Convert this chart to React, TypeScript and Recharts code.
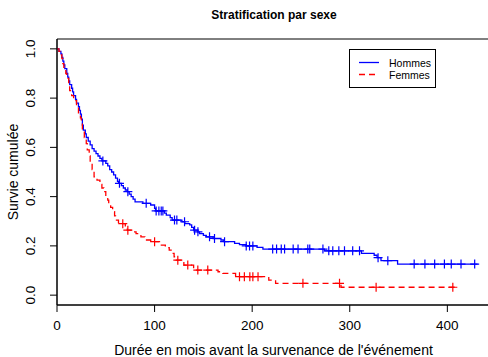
import React from 'react';
import { ComposedChart, Line, Scatter, XAxis, YAxis, ReferenceArea } from 'recharts';

const titleText = 'Stratification par sexe';
const xTitle = "Durée en mois avant la survenance de l'événement";
const yTitle = 'Survie cumulée';
const seriesNames = ['Hommes', 'Femmes'];
const xTicks = [0, 100, 200, 300, 400];
const yTicks = [0, 0.2, 0.4, 0.6, 0.8, 1.0];

// Kaplan-Meier steps: [time, survival after time]
const hommesSteps: number[][] = [
  [0, 1], [2, 0.99], [4, 0.98], [5, 0.965], [6, 0.95], [7, 0.935], [8, 0.92], [10, 0.9], [11, 0.885],
  [12, 0.87], [13, 0.855], [15, 0.84], [16, 0.825], [17, 0.81], [19, 0.795], [20, 0.78], [22, 0.765],
  [23, 0.75], [24, 0.735], [25, 0.715], [26, 0.69], [27, 0.67], [29, 0.655], [30, 0.64], [32, 0.625],
  [34, 0.61], [36, 0.595], [38, 0.585], [40, 0.575], [42, 0.565], [44, 0.555], [46, 0.545], [50, 0.535],
  [52, 0.525], [54, 0.51], [56, 0.5], [58, 0.488], [60, 0.475], [62, 0.462], [63, 0.454], [66, 0.445],
  [68, 0.435], [70, 0.427], [72, 0.42], [74, 0.41], [76, 0.4], [78, 0.39], [80, 0.379], [88, 0.373],
  [96, 0.366], [100, 0.352], [101, 0.342], [110, 0.333], [112, 0.325], [116, 0.315], [118, 0.305],
  [128, 0.298], [131, 0.29], [136, 0.285], [138, 0.275], [140, 0.264], [144, 0.257], [146, 0.25],
  [150, 0.243], [153, 0.237], [160, 0.23], [168, 0.224], [171, 0.217], [182, 0.21], [187, 0.205],
  [194, 0.2], [205, 0.194], [211, 0.187], [274, 0.18], [312, 0.17], [325, 0.162], [328, 0.152],
  [332, 0.14], [349, 0.126], [431, 0.126],
];
const hommesCensored: number[][] = [
  [47, 0.545], [64, 0.454], [72.6, 0.42], [91.4, 0.373], [101.6, 0.342], [104.4, 0.342], [106.8, 0.342],
  [108.5, 0.342], [120.4, 0.305], [122.8, 0.305], [130.7, 0.298], [141, 0.264], [144.4, 0.257],
  [156.3, 0.237], [161.4, 0.23], [171.7, 0.217], [193.9, 0.2], [197.3, 0.2], [200.7, 0.2], [221, 0.187],
  [225, 0.187], [229.8, 0.187], [233.2, 0.187], [242, 0.187], [247, 0.187], [257, 0.187], [259, 0.187],
  [272.5, 0.187], [278.5, 0.18], [282.6, 0.18], [288.8, 0.18], [294.6, 0.18], [303, 0.18], [310, 0.18],
  [329, 0.152], [339, 0.14], [366, 0.126], [377, 0.126], [387, 0.126], [397, 0.126], [404, 0.126],
  [414, 0.126], [428, 0.126],
];
const femmesSteps: number[][] = [
  [0, 1], [2, 0.99], [3, 0.975], [5, 0.96], [6, 0.94], [7, 0.925], [9, 0.9], [10, 0.88], [12, 0.85],
  [13, 0.83], [15, 0.81], [17, 0.79], [20, 0.77], [22, 0.74], [24, 0.72], [25, 0.7], [26, 0.67],
  [28, 0.64], [30, 0.615], [31, 0.59], [33, 0.565], [34, 0.535], [36, 0.51], [38, 0.48], [41, 0.467],
  [44, 0.45], [46, 0.435], [48, 0.42], [50, 0.4], [52, 0.386], [53, 0.373], [55, 0.356], [57, 0.339],
  [59, 0.322], [60, 0.305], [63, 0.29], [70, 0.277], [72, 0.264], [78, 0.257], [81, 0.25], [86, 0.237],
  [90, 0.224], [96, 0.217], [106, 0.203], [111, 0.193], [115, 0.183], [118, 0.17], [120, 0.156],
  [122, 0.142], [130, 0.122], [140, 0.102], [165, 0.095], [170, 0.088], [183, 0.075], [217, 0.061],
  [224, 0.048], [291, 0.032], [410.7, 0.032],
];
const femmesCensored: number[][] = [
  [67.4, 0.29], [72.6, 0.264], [100, 0.217], [123.8, 0.142], [134, 0.122], [144.3, 0.102], [154.5, 0.102],
  [187, 0.075], [192, 0.075], [197.6, 0.075], [200.7, 0.075], [206, 0.075], [252, 0.048], [289.5, 0.048],
  [327, 0.032], [405.6, 0.032],
];

const BLUE = '#0000FF';
const RED = '#FF0000';
const FONT = '"Liberation Sans", Arial, Helvetica, sans-serif';

const toRows = (arr: number[][]) => arr.map(([t, s]) => ({ t, s }));
const hommesData = toRows(hommesSteps);
const femmesData = toRows(femmesSteps);
const hommesCens = toRows(hommesCensored);
const femmesCens = toRows(femmesCensored);

const makePlus = (color: string) => (props: any) => {
  const { cx, cy } = props;
  if (cx == null || cy == null) return <g />;
  return (
    <path
      d={`M${cx - 4.5},${cy}H${cx + 4.5}M${cx},${cy - 4.5}V${cy + 4.5}`}
      stroke={color}
      strokeWidth={1.2}
      fill="none"
    />
  );
};

const XTick = (props: any) => {
  const { x, payload } = props;
  return (
    <text x={x} y={330} textAnchor="middle" fontSize={13.5} fontFamily={FONT} fill="#000">
      {String(payload.value)}
    </text>
  );
};

const YTick = (props: any) => {
  const { y, payload } = props;
  const lx = 35;
  return (
    <text
      x={lx}
      y={y}
      transform={`rotate(-90, ${lx}, ${y})`}
      textAnchor="middle"
      fontSize={13.5}
      fontFamily={FONT}
      fill="#000"
    >
      {Number(payload.value).toFixed(1)}
    </text>
  );
};

const XLabel = (props: any) => {
  const vb = props.viewBox || { x: 57, width: 433 };
  return (
    <text x={vb.x + vb.width / 2} y={355} textAnchor="middle" fontSize={14} fontFamily={FONT} fill="#000">
      {xTitle}
    </text>
  );
};

const YLabel = (props: any) => {
  const vb = props.viewBox || { y: 39, height: 266 };
  const cy = vb.y + vb.height / 2;
  return (
    <text
      x={18}
      y={cy}
      transform={`rotate(-90, 18, ${cy})`}
      textAnchor="middle"
      fontSize={14}
      fontFamily={FONT}
      fill="#000"
    >
      {yTitle}
    </text>
  );
};

export default function App() {
  return (
    <div
      style={{
        position: 'absolute',
        left: 0,
        top: 0,
        width: 488,
        height: 357,
        overflow: 'hidden',
        background: '#fff',
      }}
    >
      <ComposedChart
        width={500}
        height={357}
        margin={{ top: 39, right: 10, bottom: 0, left: 0 }}
      >
        <XAxis
          type="number"
          dataKey="t"
          domain={[0, 443.7]}
          allowDataOverflow
          ticks={xTicks}
          tick={<XTick />}
          tickSize={7}
          height={52}
          stroke="#000"
          axisLine={{ stroke: '#000' }}
          tickLine={{ stroke: '#000' }}
          label={<XLabel />}
        />
        <YAxis
          type="number"
          dataKey="s"
          domain={[-0.04, 1.04]}
          allowDataOverflow
          ticks={yTicks}
          tick={<YTick />}
          tickSize={7}
          width={57}
          stroke="#000"
          axisLine={{ stroke: '#000' }}
          tickLine={{ stroke: '#000' }}
          label={<YLabel />}
        />
        <ReferenceArea
          x1={0}
          x2={443.7}
          y1={-0.04}
          y2={1.04}
          fill="none"
          fillOpacity={0}
          stroke="#000"
          strokeWidth={1}
          strokeOpacity={1}
        />
        <Line
          data={hommesData}
          dataKey="s"
          type="stepAfter"
          stroke={BLUE}
          strokeWidth={1.3}
          dot={false}
          activeDot={false}
          isAnimationActive={false}
          name={seriesNames[0]}
        />
        <Line
          data={femmesData}
          dataKey="s"
          type="stepAfter"
          stroke={RED}
          strokeWidth={1.3}
          strokeDasharray="6 4"
          dot={false}
          activeDot={false}
          isAnimationActive={false}
          name={seriesNames[1]}
        />
        <Scatter
          data={hommesCens}
          dataKey="s"
          shape={makePlus(BLUE)}
          isAnimationActive={false}
          legendType="none"
        />
        <Scatter
          data={femmesCens}
          dataKey="s"
          shape={makePlus(RED)}
          isAnimationActive={false}
          legendType="none"
        />
      </ComposedChart>
      <svg
        width={488}
        height={357}
        style={{ position: 'absolute', left: 0, top: 0, pointerEvents: 'none' }}
      >
        <text x={274} y={18.5} textAnchor="middle" fontSize={12} fontWeight="bold" fontFamily={FONT} fill="#000">
          {titleText}
        </text>
        <rect x={349.5} y={49.5} width={86} height={38} fill="#fff" stroke="#000" strokeWidth={1} />
        <line x1={359} y1={62.5} x2={379} y2={62.5} stroke={BLUE} strokeWidth={1.3} />
        <line x1={359} y1={74.5} x2={379} y2={74.5} stroke={RED} strokeWidth={1.3} strokeDasharray="6 4" />
        <text x={389} y={66.5} fontSize={10.5} fontFamily={FONT} fill="#000">{seriesNames[0]}</text>
        <text x={389} y={78.5} fontSize={10.5} fontFamily={FONT} fill="#000">{seriesNames[1]}</text>
      </svg>
    </div>
  );
}
